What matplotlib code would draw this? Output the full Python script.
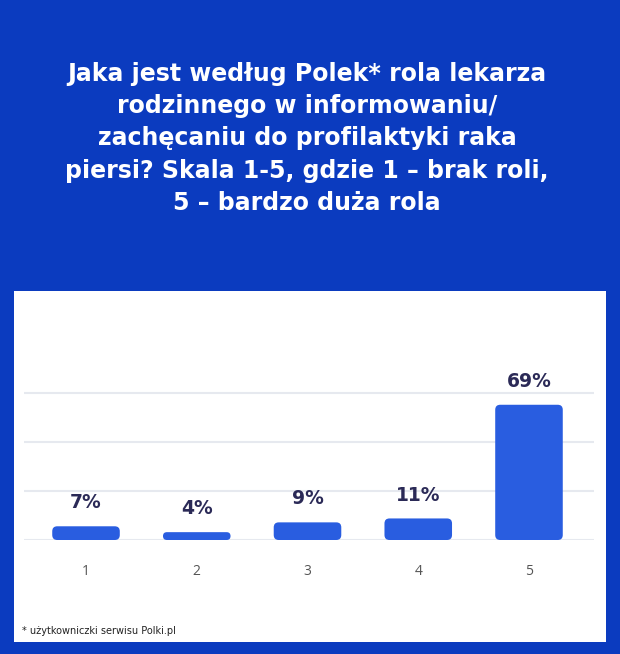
import matplotlib
matplotlib.use("Agg")
import matplotlib.pyplot as plt
from matplotlib.patches import FancyBboxPatch, Rectangle

categories = ["1", "2", "3", "4", "5"]
values = [7, 4, 9, 11, 69]
value_labels = ["7%", "4%", "9%", "11%", "69%"]
title = ("Jaka jest według Polek* rola lekarza\nrodzinnego w informowaniu/\n"
         "zachęcaniu do profilaktyki raka\npiersi? Skala 1-5, gdzie 1 – brak roli,\n"
         "5 – bardzo duża rola")
footnote = "* użytkowniczki serwisu Polki.pl"

BG = "#0b3bbf"
BAR = "#295de0"
GRID = "#e6e9ef"
NAVY = "#2b2a57"

W, H = 620, 654
fig = plt.figure(figsize=(W / 100, H / 100), dpi=100)
fig.patch.set_facecolor(BG)

# white panel
fig.patches.append(Rectangle((14 / W, 1 - 642 / H), 592 / W, 351 / H,
                             transform=fig.transFigure, facecolor="white",
                             edgecolor="none", zorder=-5))

fig.text(0.495, 1 - 62 / H, title, ha="center", va="top", color="white",
         fontsize=17, fontweight="bold", family=["DejaVu Sans"],
         linespacing=1.43)

fig.text(22 / W, 1 - 631 / H, footnote, ha="left", va="center", color="#222222",
         fontsize=7, family=["Liberation Sans Narrow", "DejaVu Sans"])

ax_l, ax_r, ax_b, ax_t = 24, 594, 540, 344
ax = fig.add_axes([ax_l / W, 1 - ax_b / H, (ax_r - ax_l) / W, (ax_b - ax_t) / H])
ax.set_zorder(2)
ax.set_facecolor("none")
x = list(range(len(categories)))
xmin, xmax = -0.56, 4.587
ymin, ymax = 0, 100
ax.set_xlim(xmin, xmax)
ax.set_ylim(ymin, ymax)

pxx = (ax_r - ax_l) / (xmax - xmin)
pxy = (ax_b - ax_t) / (ymax - ymin)

bars = ax.bar(x, values, width=0.61, color=BAR)
for rect in bars:
    rect.set_visible(False)
    x0, y0 = rect.get_x(), rect.get_y()
    w, h = rect.get_width(), rect.get_height()
    r_px = min(5.0, h * pxy / 2)
    patch = FancyBboxPatch((x0, y0), w, h,
                           boxstyle=f"round,pad=0,rounding_size={r_px / pxx}",
                           mutation_aspect=pxx / pxy,
                           facecolor=BAR, edgecolor="none", zorder=3)
    ax.add_patch(patch)

for xi, v, lab in zip(x, values, value_labels):
    ax.annotate(lab, (xi, v), xytext=(0, 10), textcoords="offset points",
                ha="center", va="bottom", fontsize=13.5, fontweight="bold",
                color=NAVY, family=["DejaVu Sans"])

ax.set_yticks([0, 25, 50, 75])
ax.yaxis.grid(True, color=GRID, linewidth=1.5)
ax.set_axisbelow(True)
ax.tick_params(axis="y", left=False, labelleft=False)
ax.set_xticks(x)
ax.set_xticklabels(categories, fontsize=10, color="#555555",
                   family=["Open Sans", "DejaVu Sans"])
ax.tick_params(axis="x", bottom=False, pad=14)
for s in ax.spines.values():
    s.set_visible(False)

fig.savefig("out.png", dpi=100, facecolor=BG)
